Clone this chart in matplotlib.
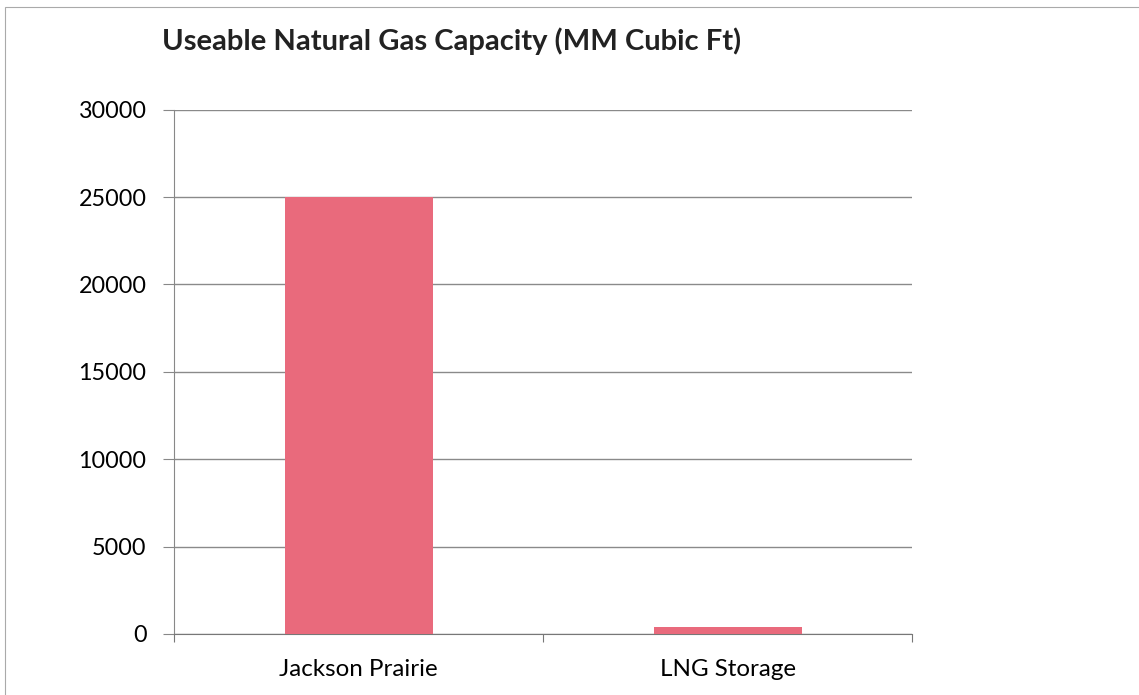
import matplotlib.pyplot as plt
from matplotlib.patches import Rectangle

categories = ["Jackson Prairie", "LNG Storage"]
capacity = [25000, 400]
yticks = [0, 5000, 10000, 15000, 20000, 25000, 30000]

plt.rcParams['font.family'] = ['Lato', 'DejaVu Sans']

fig = plt.figure(figsize=(11.39, 6.95), dpi=100)
ax = fig.add_axes([0.153, 0.088, 0.648, 0.754])

x = range(len(categories))
ax.bar(x, capacity, width=0.4, color="#E96A7C", zorder=3)

ax.set_xlim(-0.5, 1.5)
ax.set_ylim(0, 30000)
ax.set_yticks(yticks)
ax.set_yticklabels([str(v) for v in yticks], fontsize=16.8)
ax.set_xticks([-0.5, 0.5, 1.5], minor=False)
ax.set_xticklabels([])
ax.set_xticks(list(x), minor=True)
ax.set_xticklabels(categories, minor=True, fontsize=17.4)
ax.tick_params(axis="x", which="minor", length=0, pad=18)
ax.tick_params(axis="x", which="major", length=6, color="#777777")
ax.tick_params(axis="y", length=8, color="#888888", pad=12)

ax.grid(axis="y", color="#8a8a8a", linewidth=1, zorder=0)
for s in ["top", "right"]:
    ax.spines[s].set_visible(False)
ax.spines["left"].set_color("#888888")
ax.spines["bottom"].set_color("#777777")

fig.text(0.142, 0.94, "Useable Natural Gas Capacity (MM Cubic Ft)",
         fontsize=21, fontweight="bold", color="#222222", va="center")

# scanned page edge
fig.add_artist(Rectangle((0.004, -0.01), 1.0, 1.0, transform=fig.transFigure,
                         fill=False, edgecolor="#aaaaaa", linewidth=0.8))

fig.savefig("out.png", dpi=100)
